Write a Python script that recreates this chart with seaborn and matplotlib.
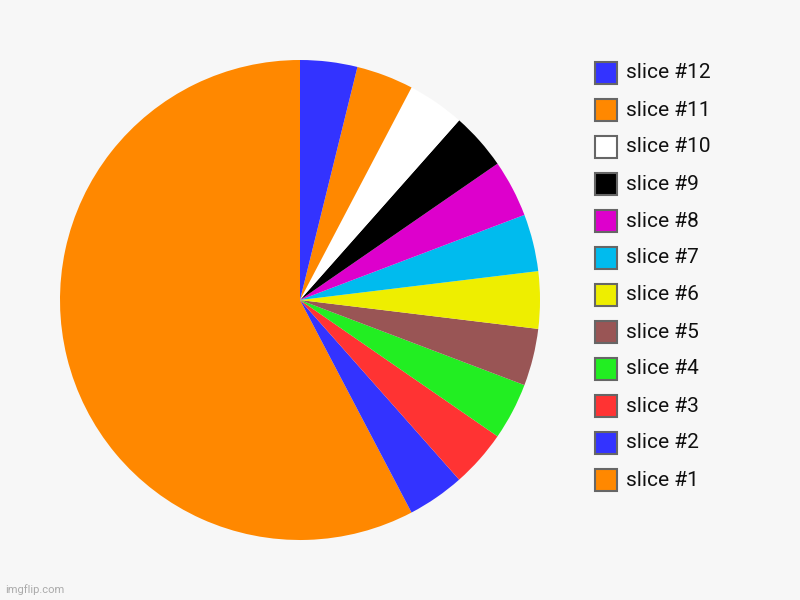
import matplotlib
matplotlib.use("Agg")
import matplotlib.pyplot as plt
from matplotlib.patches import Rectangle
import seaborn as sns

labels = ["slice #1", "slice #2", "slice #3", "slice #4", "slice #5", "slice #6",
          "slice #7", "slice #8", "slice #9", "slice #10", "slice #11", "slice #12"]
values = [15, 1, 1, 1, 1, 1, 1, 1, 1, 1, 1, 1]
colors = ["#ff8800", "#3333ff", "#ff3333", "#22ee22", "#995555", "#eeee00",
          "#00bbee", "#dd00cc", "#000000", "#ffffff", "#ff8800", "#3333ff"]

sns.set_style("white")
plt.rcParams['font.family'] = ['Roboto', 'DejaVu Sans']
bg = "#f7f7f7"

fig = plt.figure(figsize=(8, 6), dpi=100, facecolor=bg)
ax = fig.add_axes([60/800, 60/600, 480/800, 480/600])
ax.set_facecolor(bg)
ax.pie(values, colors=sns.color_palette(colors), startangle=90, counterclock=True,
       wedgeprops=dict(linewidth=0), radius=1.0)
ax.set_xlim(-1, 1)
ax.set_ylim(-1, 1)
ax.set_aspect("equal")
ax.axis("off")

# legend (top: slice #12 down to slice #1)
y0 = 73
step = 37
for i, (lab, col) in enumerate(zip(labels[::-1], colors[::-1])):
    yc = y0 + i * step
    fig.add_artist(Rectangle((595 / 800, 1 - (yc + 11) / 600), 22 / 800, 22 / 600,
                             transform=fig.transFigure, facecolor=col,
                             edgecolor="#666666", linewidth=1.5))
    fig.text(626 / 800, 1 - yc / 600, lab, fontsize=15, color="#111111",
             va="center", ha="left")

fig.text(5 / 800, 1 - 590 / 600, "imgflip.com", fontsize=8, color="#aaaaaa",
         va="center", ha="left")

fig.savefig("out.png", dpi=100, facecolor=bg)
